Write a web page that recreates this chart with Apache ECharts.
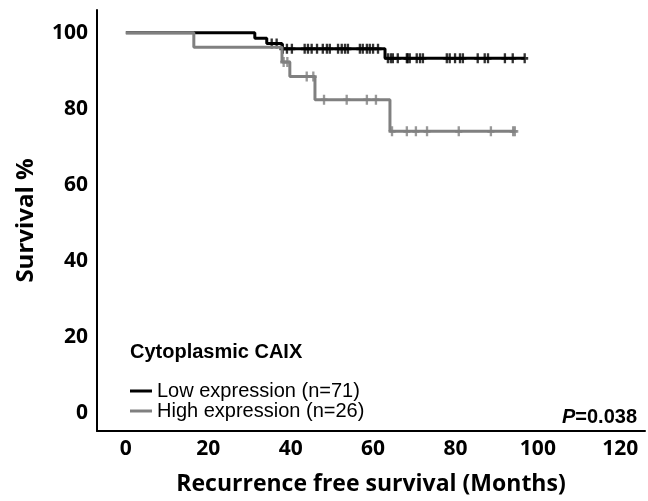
<!DOCTYPE html>
<html>
<head>
<meta charset="utf-8">
<script src="https://cdn.jsdelivr.net/npm/echarts@6/dist/echarts.min.js"></script>
<style>
  html, body { margin: 0; padding: 0; background: #fff; }
  #km { width: 648px; height: 501px; }
</style>
</head>
<body>
<div id="km"></div>
<script>
  // Kaplan-Meier steps: [months, survival %]
  const lowSteps = [[0, 100], [31.3, 98.6], [34.2, 97.2], [37.9, 95.8], [62.9, 93.3], [96.8, 93.3]]
  const highSteps = [[0, 100], [16.5, 96.2], [37.9, 92.3], [39.8, 88.5], [45.9, 82.4], [64.1, 74.1], [94.4, 74.1]]

  // censored cases
  const lowCensored = [
    [35.4, 97.2], [36.6, 97.2],
    [38.1, 95.8], [39.1, 95.8], [40.3, 95.8], [43.4, 95.8], [44.2, 95.8], [45.1, 95.8],
    [46.4, 95.8], [47.8, 95.8], [48.8, 95.8], [49.5, 95.8], [51.5, 95.8], [52.4, 95.8],
    [53.2, 95.8], [53.9, 95.8], [56.8, 95.8], [57.5, 95.8], [58.5, 95.8], [59.2, 95.8],
    [60.0, 95.8], [61.2, 95.8],
    [63.6, 93.3], [64.3, 93.3], [64.8, 93.3], [66.0, 93.3], [68.2, 93.3], [68.4, 93.3],
    [68.9, 93.3], [70.6, 93.3], [71.4, 93.3], [72.1, 93.3], [77.9, 93.3], [78.6, 93.3],
    [79.9, 93.3], [81.1, 93.3], [81.8, 93.3], [85.4, 93.3], [87.1, 93.3], [87.9, 93.3],
    [92.0, 93.3], [93.9, 93.3], [96.8, 93.3]
  ]
  const highCensored = [
    [38.3, 92.3], [39.2, 92.3],
    [43.9, 88.5], [45.5, 88.5],
    [48.1, 82.4], [53.6, 82.4], [58.5, 82.4], [60.7, 82.4],
    [64.6, 74.1], [68.2, 74.1], [70.4, 74.1], [73.1, 74.1], [80.8, 74.1], [88.6, 74.1],
    [94.0, 74.1], [94.4, 74.1]
  ]

  const xTicks = [0, 20, 40, 60, 80, 100, 120]
  const yTicks = [0, 20, 40, 60, 80, 100]
  const lowName = 'Low expression (n=71)'
  const highName = 'High expression (n=26)'

  const numFont = '"Open Sans", "DejaVu Sans", sans-serif'
  const helv = '"Liberation Sans", Arial, sans-serif'
  // small "+" used for censored cases
  const plusMark = 'path://M3,0h3v4h3v3h-3v4h-3v-4h-3v-3h3z'

  const chart = echarts.init(document.getElementById('km'))
  chart.setOption({
    backgroundColor: '#fff',
    animation: false,
    color: ['#000000', '#808080'],
    grid: { left: 97, right: 3, top: 10, bottom: 68 },
    legend: {
      data: [lowName, highName],
      orient: 'vertical',
      left: 130,
      top: 381,
      icon: 'rect',
      itemWidth: 22,
      itemHeight: 3,
      itemGap: 0,
      padding: 0,
      textStyle: { fontFamily: helv, fontSize: 20, color: '#000', lineHeight: 20 }
    },
    xAxis: {
      type: 'value',
      min: -7,
      max: 126,
      name: 'Recurrence free survival (Months)',
      nameLocation: 'middle',
      nameGap: 42,
      nameTextStyle: { fontFamily: numFont, fontWeight: 'bold', fontSize: 23, color: '#000' },
      axisLine: { onZero: false, lineStyle: { color: '#000', width: 2 } },
      axisTick: { show: false },
      splitLine: { show: false },
      axisLabel: {
        customValues: xTicks,
        margin: 8,
        fontFamily: numFont,
        fontWeight: 'bold',
        fontSize: 21,
        color: '#000'
      }
    },
    yAxis: {
      type: 'value',
      min: -4.7,
      max: 106,
      name: 'Survival %',
      nameLocation: 'middle',
      nameRotate: 90,
      nameGap: 59,
      nameTextStyle: { fontFamily: numFont, fontWeight: 'bold', fontSize: 24, color: '#000' },
      axisLine: { show: true, onZero: false, lineStyle: { color: '#000', width: 2 } },
      axisTick: { show: false },
      splitLine: { show: false },
      axisLabel: {
        customValues: yTicks,
        margin: 9,
        fontFamily: numFont,
        fontWeight: 'bold',
        fontSize: 21,
        color: '#000'
      }
    },
    graphic: [
      {
        type: 'text',
        left: 130,
        top: 342,
        style: { text: 'Cytoplasmic CAIX', fontFamily: helv, fontWeight: 'bold', fontSize: 20, fill: '#000' }
      },
      {
        type: 'text',
        right: 11,
        top: 407,
        style: {
          text: '{i|P}=0.038',
          fontFamily: helv,
          fontWeight: 'bold',
          fontSize: 20,
          fill: '#000',
          rich: { i: { fontFamily: helv, fontWeight: 'bold', fontStyle: 'italic', fontSize: 20 } }
        }
      }
    ],
    series: [
      {
        name: lowName,
        type: 'line',
        step: 'end',
        showSymbol: false,
        data: lowSteps,
        lineStyle: { color: '#000', width: 3 },
        z: 2
      },
      {
        name: 'lowCensor',
        type: 'scatter',
        symbol: plusMark,
        symbolSize: [7, 10],
        data: lowCensored,
        itemStyle: { color: '#000' },
        z: 2
      },
      {
        name: highName,
        type: 'line',
        step: 'end',
        showSymbol: false,
        data: highSteps,
        lineStyle: { color: '#808080', width: 3 },
        z: 3
      },
      {
        name: 'highCensor',
        type: 'scatter',
        symbol: plusMark,
        symbolSize: [7, 10],
        data: highCensored,
        itemStyle: { color: '#808080' },
        z: 3
      }
    ]
  })
</script>
</body>
</html>
